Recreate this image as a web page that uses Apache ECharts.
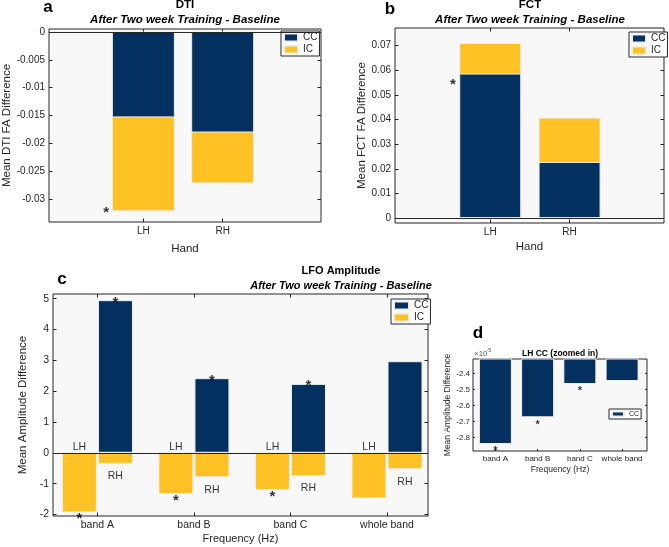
<!DOCTYPE html>
<html>
<head>
<meta charset="utf-8">
<title>DTI / FCT / LFO Amplitude</title>
<script src="https://cdn.jsdelivr.net/npm/echarts@6/dist/echarts.min.js"></script>
<style>
  html, body { margin: 0; padding: 0; background: #fff; }
  #chart { width: 669px; height: 547px; }
</style>
</head>
<body>
<div id="chart"></div>
<script>
// ---- data ----
var hands = ['LH', 'RH'];
var handPos = [1, 2];
// panel a: DTI FA difference, stacked segments
var dtiCC = [-0.0153, -0.0180];
var dtiIC = [-0.0168, -0.0091];
var dtiSigIC = [1, 0];
var dtiTicks = [-0.03, -0.025, -0.02, -0.015, -0.01, -0.005, 0];
// panel b: FCT FA difference, stacked segments
var fctCC = [0.0587, 0.0228];
var fctIC = [0.0124, 0.0180];
var fctSigCC = [1, 0];
var fctTicks = [0, 0.01, 0.02, 0.03, 0.04, 0.05, 0.06, 0.07];
// panel c: LFO amplitude
var bands = ['band A', 'band B', 'band C', 'whole band'];
var bandPos = [1, 2, 3, 4];
var lhCC = [-2.842e-5, -2.674e-5, -2.465e-5, -2.446e-5];
var lhIC = [-1.935, -1.335, -1.205, -1.48];
var rhCC = [4.95, 2.42, 2.235, 2.97];
var rhIC = [-0.36, -0.795, -0.76, -0.535];
var lhSigIC = [1, 1, 1, 0];
var rhSigCC = [1, 1, 1, 0];
var lfoTicks = [-2, -1, 0, 1, 2, 3, 4, 5];
// panel d: LH CC zoomed in (same values as lhCC)
var lhSigCC = [1, 1, 1, 0];
var zoomTicks = [-2.8e-5, -2.7e-5, -2.6e-5, -2.5e-5, -2.4e-5];

// ---- styles ----
var font = '"Liberation Sans", Arial, Helvetica, sans-serif';
var ink = '#262626';
var navy = '#03305f';
var gold = '#fec224';
var edge = '#eeeeee';
var plotBg = '#f8f8f8';

function pairs(xs, ys) {
  return xs.map(function (x, i) { return [x, ys[i]]; });
}
function sum(a, b) {
  return a.map(function (v, i) { return v + b[i]; });
}

function axes(dim, grid, min, max, ticks, fmt, fs, name, nameSize, gap, margin, tickLen) {
  var tick = { inside: true, length: tickLen, customValues: ticks, lineStyle: { color: ink, width: 1 } };
  return [{
    type: 'value', gridIndex: grid, position: dim === 'x' ? 'bottom' : 'left',
    min: min, max: max,
    splitLine: { show: false }, axisLine: { show: false, onZero: false },
    axisTick: tick,
    axisLabel: { customValues: ticks, formatter: fmt, fontSize: fs, color: ink, margin: margin, fontFamily: font },
    name: name, nameLocation: 'middle', nameGap: gap,
    nameTextStyle: { fontSize: nameSize, color: ink, fontFamily: font }
  }, {
    type: 'value', gridIndex: grid, position: dim === 'x' ? 'top' : 'right',
    min: min, max: max,
    splitLine: { show: false }, axisLine: { show: false, onZero: false },
    axisTick: tick, axisLabel: { show: false }
  }];
}

function grid(l, t, w, h) {
  return {
    left: l, top: t, width: w, height: h, show: true,
    backgroundColor: plotBg, borderColor: ink, borderWidth: 1,
    containLabel: false, outerBoundsMode: 'none'
  };
}

function zeroLine() {
  return {
    silent: true, symbol: ['none', 'none'], label: { show: false },
    lineStyle: { color: ink, width: 1, type: 'solid', opacity: 1 },
    emphasis: { disabled: true },
    data: [{ yAxis: 0 }]
  };
}

function legend(l, t, names, fs, iw, ih) {
  return {
    orient: 'vertical', left: l, top: t, data: names, icon: 'rect',
    itemWidth: iw, itemHeight: ih, itemGap: 1, padding: [1, 2, 1, 2],
    backgroundColor: '#fff', borderColor: ink, borderWidth: 1, borderRadius: 0,
    selectedMode: false,
    textStyle: { fontSize: fs, lineHeight: fs + 1, color: ink, fontFamily: font }
  };
}

function title(text, sub, x, y, fs) {
  return {
    text: text, subtext: sub, left: x, top: y, textAlign: 'center', padding: 0, itemGap: 3,
    textStyle: { fontSize: fs, lineHeight: fs + 0.5, fontWeight: 'bold', color: '#000', fontFamily: font },
    subtextStyle: { fontSize: fs, lineHeight: fs + 0.5, fontWeight: 'bold', fontStyle: 'italic', color: '#000', fontFamily: font }
  };
}

function textSeries(xi, data, text, fs, offY, weight) {
  return {
    type: 'scatter', xAxisIndex: xi, yAxisIndex: xi, data: data, clip: false,
    symbolSize: 1, itemStyle: { color: 'rgba(0,0,0,0)' }, silent: true,
    label: { show: true, position: 'inside', formatter: text, fontSize: fs, color: '#000',
      fontWeight: weight || 'normal', fontFamily: font, offset: [0, offY] }
  };
}

function bar(name, xi, stack, width, gap, data, color) {
  var s = {
    type: 'bar', name: name, xAxisIndex: xi, yAxisIndex: xi,
    barWidth: width, barGap: gap, data: data,
    itemStyle: { color: color, borderColor: edge, borderWidth: 1 }
  };
  if (stack) s.stack = stack;
  return s;
}

// ---- annotation positions derived from the values ----
var starSide = 0.47;     // asterisk left of LH bar (panels a, b)
var groupShift = 0.186;  // half spacing of LH/RH bars in panel c

var dtiTotal = sum(dtiCC, dtiIC);
var fctTotal = sum(fctCC, fctIC);
var dtiStars = [], fctStars = [], lfoStars = [], zoomStars = [];
handPos.forEach(function (x, i) {
  if (dtiSigIC[i]) dtiStars.push([x - starSide, dtiTotal[i] + 0.0005]);
  if (fctSigCC[i]) fctStars.push([x - starSide, fctCC[i] - 0.003]);
});
var lhText = [], rhText = [];
bandPos.forEach(function (x, i) {
  if (rhSigCC[i]) lfoStars.push([x + groupShift, rhCC[i] + 0.05]);
  if (lhSigIC[i]) lfoStars.push([x - groupShift, lhCC[i] + lhIC[i] - 0.08]);
  if (lhSigCC[i]) zoomStars.push([x, lhCC[i] - 0.027e-5]);
  lhText.push([x - groupShift, 0.18]);
  rhText.push([x + groupShift, rhIC[i] - 0.4]);
});

var handFmt = function (v) { return hands[Math.round(v) - 1]; };
var bandFmt = function (v) { return bands[Math.round(v) - 1]; };
var numFmt = function (v) { return String(parseFloat(v.toFixed(4))); };
var zoomFmt = function (v) { return (v / 1e-5).toFixed(1); };

var xa = [].concat(
  axes('x', 0, -0.19, 3.24, handPos, handFmt, 10, 'Hand', 11.5, 20.5, 4, 3.5),
  axes('x', 1, -0.2, 3.19, handPos, handFmt, 10, 'Hand', 11.5, 18, 4, 3.5),
  axes('x', 2, 0.54, 4.425, bandPos, bandFmt, 10.5, 'Frequency (Hz)', 11, 17, 4, 3.5),
  axes('x', 3, 0.47, 4.59, bandPos, bandFmt, 8, 'Frequency (Hz)', 8.5, 14, 3.5, 2)
);
var ya = [].concat(
  axes('y', 0, -0.034, 0.0005, dtiTicks, numFmt, 10, 'Mean DTI FA Difference', 11.5, 33, 4, 3.5),
  axes('y', 1, -0.002, 0.0772, fctTicks, numFmt, 10, 'Mean FCT FA Difference', 11.5, 26, 4, 3.5),
  axes('y', 2, -2.05, 5.15, lfoTicks, numFmt, 10.5, 'Mean Amplitude Difference', 11.5, 15, 4, 3.5),
  axes('y', 3, -2.886e-5, -2.3075e-5, zoomTicks, zoomFmt, 8, 'Mean Amplitude Difference', 8.5, 17, 3, 2)
);

var series = [];
// a: the IC segment is drawn as the cumulative bar, CC overlaps it from 0
var aIC = bar('IC', 0, null, 63, '-100%', pairs(handPos, dtiTotal), gold);
aIC.markLine = zeroLine();
series.push(aIC, bar('CC', 0, null, 63, '-100%', pairs(handPos, dtiCC), navy));
series.push(textSeries(0, dtiStars, '*', 15, 4, 'bold'));
// b
var bIC = bar('IC', 2, null, 62, '-100%', pairs(handPos, fctTotal), gold);
bIC.markLine = zeroLine();
series.push(bIC, bar('CC', 2, null, 62, '-100%', pairs(handPos, fctCC), navy));
series.push(textSeries(2, fctStars, '*', 15, 4, 'bold'));
// c: LH and RH columns, CC above zero and IC below zero
var cLH = bar('IC', 4, 'lh', 35, '3%', pairs(bandPos, sum(lhCC, lhIC)), gold);
cLH.markLine = zeroLine();
series.push(cLH, bar('CC', 4, 'lh', 35, '3%', pairs(bandPos, lhCC), navy));
series.push(bar('CC', 4, 'rh', 35, '3%', pairs(bandPos, rhCC), navy));
series.push(bar('IC', 4, 'rh', 35, '3%', pairs(bandPos, rhIC), gold));
series.push(textSeries(4, lfoStars, '*', 15, 4, 'bold'));
series.push(textSeries(4, lhText, 'LH', 10.5, 0));
series.push(textSeries(4, rhText, 'RH', 10.5, 0));
// d
series.push(bar('CC', 6, null, 33, '3%', pairs(bandPos, lhCC), navy));
series.push(textSeries(6, zoomStars, '*', 11, 3, 'bold'));

var chart = echarts.init(document.getElementById('chart'), null, { renderer: 'canvas' });
chart.setOption({
  animation: false,
  backgroundColor: '#fff',
  textStyle: { fontFamily: font },
  grid: [grid(49, 29, 272, 193), grid(395, 28, 269, 195), grid(53, 294, 375, 222), grid(473, 359, 174, 92)],
  xAxis: xa,
  yAxis: ya,
  title: [
    title('DTI', 'After Two week Training - Baseline', 185, -1, 11.5),
    title('FCT', 'After Two week Training - Baseline', 530, -1, 11.5),
    title('LFO Amplitude', 'After Two week Training - Baseline', 341, 265.5, 11),
    title('LH CC (zoomed in)', '', 560, 349.5, 8.5)
  ],
  legend: [
    legend(281, 31, ['CC', 'IC'], 10, 14, 8),
    legend(629, 32, ['CC', 'IC'], 10, 14, 8),
    legend(391, 299, ['CC', 'IC'], 10, 15, 8),
    legend(609, 409, ['CC'], 7, 12, 5)
  ],
  graphic: [
    { type: 'text', x: 48, y: 7.5, style: { text: 'a', fontSize: 17, fontWeight: 'bold', fontFamily: font, fill: '#000', align: 'center', verticalAlign: 'middle' } },
    { type: 'text', x: 390, y: 9, style: { text: 'b', fontSize: 17, fontWeight: 'bold', fontFamily: font, fill: '#000', align: 'center', verticalAlign: 'middle' } },
    { type: 'text', x: 62, y: 279, style: { text: 'c', fontSize: 17, fontWeight: 'bold', fontFamily: font, fill: '#000', align: 'center', verticalAlign: 'middle' } },
    { type: 'text', x: 478, y: 333, style: { text: 'd', fontSize: 17, fontWeight: 'bold', fontFamily: font, fill: '#000', align: 'center', verticalAlign: 'middle' } },
    { type: 'text', x: 474, y: 353.5, style: { text: '\u00d710', fontSize: 8, fontFamily: font, fill: '#555', align: 'left', verticalAlign: 'middle' } },
    { type: 'text', x: 486.5, y: 350, style: { text: '-5', fontSize: 5.5, fontFamily: font, fill: '#555', align: 'left', verticalAlign: 'middle' } }
  ],
  series: series
});
</script>
</body>
</html>
